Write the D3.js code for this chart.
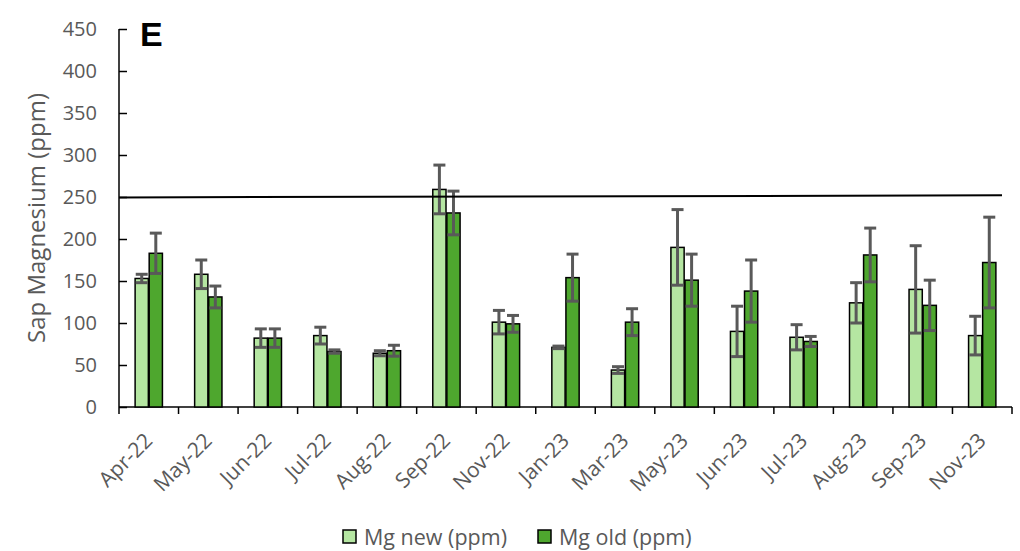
<!DOCTYPE html>
<html>
<head>
<meta charset="utf-8">
<script src="https://cdn.jsdelivr.net/npm/d3@7"></script>
<style>
  body { margin: 0; background: #fff; }
  text { font-family: "Open Sans", "Liberation Sans", sans-serif; }
</style>
</head>
<body>
<div id="chart"></div>
<script>
// Data
var months = ["Apr-22", "May-22", "Jun-22", "Jul-22", "Aug-22", "Sep-22", "Nov-22", "Jan-23",
  "Mar-23", "May-23", "Jun-23", "Jul-23", "Aug-23", "Sep-23", "Nov-23"];
var mgNew = [153, 158, 82, 85, 64, 259, 101, 71, 44, 190, 90, 83, 124, 140, 85];
var mgNewErr = [5, 17, 11, 10, 3, 29, 14, 1.5, 4, 45, 30, 15, 24, 52, 23];
var mgOld = [183, 131, 82, 66, 67, 231, 99, 154, 101, 151, 138, 78, 181, 121, 172];
var mgOldErr = [24, 13, 11, 2, 6.5, 26, 10, 28, 16, 31, 37, 6, 32, 30, 54];
var seriesNames = ["Mg new (ppm)", "Mg old (ppm)"];
var seriesColors = ["#b5e6a2", "#4ea72e"];
var yTicks = [0, 50, 100, 150, 200, 250, 300, 350, 400, 450];
var refLine = [249.5, 252]; // hand drawn line near 250, left and right ends

var svgWidth = 1020;
var svgHeight = 551;

var margin = {
  top: 29,
  right: 8,
  bottom: 144,
  left: 119
};

var width = svgWidth - margin.left - margin.right;
var height = svgHeight - margin.top - margin.bottom;

var svg = d3.select("#chart")
  .append("svg")
  .attr("width", svgWidth)
  .attr("height", svgHeight);

var chartGroup = svg.append("g")
  .attr("transform", `translate(${margin.left}, ${margin.top})`);

// build rows for the bars
var rows = months.map(function(m, i) {
  return {
    month: m,
    values: [
      { key: 0, v: mgNew[i], e: mgNewErr[i] },
      { key: 1, v: mgOld[i], e: mgOldErr[i] }
    ]
  };
});

// scales
var x0 = d3.scaleBand()
  .domain(months)
  .range([0, width])
  .paddingInner(0.513)
  .paddingOuter(0.2565);

var x1 = d3.scaleBand()
  .domain([0, 1])
  .range([0, x0.bandwidth()])
  .padding(0.06);

var yLinearScale = d3.scaleLinear()
  .domain([0, 450])
  .range([height, 0]);

// y axis, ticks pointing into the plot
var leftAxis = d3.axisRight(yLinearScale)
  .tickValues(yTicks)
  .tickSize(8)
  .tickFormat("");

var yAxis = chartGroup.append("g")
  .call(leftAxis);
yAxis.select(".domain").attr("stroke", "#000").attr("stroke-width", 1.5)
  .attr("d", `M0,${height}V0`);
yAxis.selectAll(".tick line").attr("stroke", "#000").attr("stroke-width", 1.5);

chartGroup.selectAll(".ylab")
  .data(yTicks)
  .enter()
  .append("text")
  .attr("class", "ylab")
  .attr("x", -22)
  .attr("y", d => yLinearScale(d))
  .attr("dy", "0.36em")
  .attr("text-anchor", "end")
  .style("font-size", "20px")
  .attr("fill", "#595959")
  .text(d => d);

// x axis, ticks between the months
var xTickPos = d3.range(months.length + 1).map(i => i * x0.step());
var xAxis = chartGroup.append("g")
  .attr("transform", `translate(0, ${height})`);
xAxis.append("line")
  .attr("x1", 0).attr("x2", width)
  .attr("stroke", "#000").attr("stroke-width", 1.5);
xAxis.selectAll(".xtick")
  .data(xTickPos)
  .enter()
  .append("line")
  .attr("class", "xtick")
  .attr("x1", d => d).attr("x2", d => d)
  .attr("y1", 0).attr("y2", 7)
  .attr("stroke", "#000").attr("stroke-width", 1.5);

xAxis.selectAll(".xlab")
  .data(months)
  .enter()
  .append("text")
  .attr("class", "xlab")
  .attr("transform", d => `translate(${x0(d) + x0.bandwidth() / 2 + 5}, 35) rotate(-45)`)
  .attr("text-anchor", "end")
  .style("font-size", "21px")
  .attr("fill", "#595959")
  .text(d => d);

// bars
var groups = chartGroup.selectAll(".month")
  .data(rows)
  .enter()
  .append("g")
  .attr("class", "month")
  .attr("transform", d => `translate(${x0(d.month)}, 0)`);

groups.selectAll("rect")
  .data(d => d.values)
  .enter()
  .append("rect")
  .attr("x", d => x1(d.key))
  .attr("y", d => yLinearScale(d.v))
  .attr("width", x1.bandwidth())
  .attr("height", d => height - yLinearScale(d.v))
  .attr("fill", d => seriesColors[d.key])
  .attr("stroke", "#000")
  .attr("stroke-width", 1.5);

// error bars
var errs = groups.selectAll(".err")
  .data(d => d.values)
  .enter()
  .append("g")
  .attr("class", "err")
  .attr("stroke", "#595959")
  .attr("stroke-width", 3);

errs.append("line")
  .attr("x1", d => x1(d.key) + x1.bandwidth() / 2)
  .attr("x2", d => x1(d.key) + x1.bandwidth() / 2)
  .attr("y1", d => yLinearScale(d.v + d.e))
  .attr("y2", d => yLinearScale(d.v - d.e));

errs.selectAll(".cap")
  .data(d => [d.v + d.e, d.v - d.e].map(v => ({ key: d.key, v: v })))
  .enter()
  .append("line")
  .attr("x1", d => x1(d.key) + x1.bandwidth() / 2 - 6)
  .attr("x2", d => x1(d.key) + x1.bandwidth() / 2 + 6)
  .attr("y1", d => yLinearScale(d.v))
  .attr("y2", d => yLinearScale(d.v));

// reference line near 250 ppm
chartGroup.append("line")
  .attr("x1", 0)
  .attr("x2", width - 10)
  .attr("y1", yLinearScale(refLine[0]))
  .attr("y2", yLinearScale(refLine[1]))
  .attr("stroke", "#000")
  .attr("stroke-width", 2);

// panel letter
chartGroup.append("text")
  .attr("x", 21)
  .attr("y", 17)
  .style("font-family", "'Liberation Sans Narrow', 'Liberation Sans', sans-serif")
  .style("font-size", "34px")
  .style("font-weight", "bold")
  .attr("fill", "#000")
  .text("E");

// y axis title
svg.append("text")
  .attr("transform", `translate(45, ${margin.top + height / 2}) rotate(-90)`)
  .attr("text-anchor", "middle")
  .style("font-size", "24px")
  .attr("fill", "#595959")
  .text("Sap Magnesium (ppm)");

// legend
var legendX = [343, 538];
var legend = svg.selectAll(".legend")
  .data(seriesNames)
  .enter()
  .append("g")
  .attr("class", "legend")
  .attr("transform", (d, i) => `translate(${legendX[i]}, 530)`);

legend.append("rect")
  .attr("width", 13)
  .attr("height", 13)
  .attr("fill", (d, i) => seriesColors[i])
  .attr("stroke", "#000")
  .attr("stroke-width", 1.5);

legend.append("text")
  .attr("x", 21)
  .attr("y", 7)
  .attr("dy", "0.36em")
  .style("font-size", "21.5px")
  .attr("fill", "#595959")
  .text(d => d);
</script>
</body>
</html>
